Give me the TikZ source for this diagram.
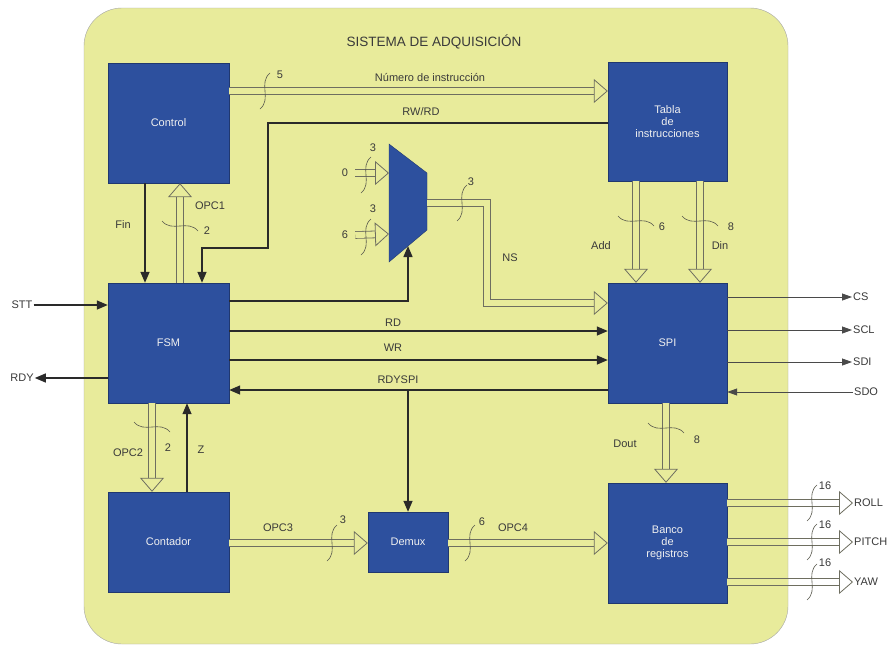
\documentclass[tikz,border=0pt]{standalone}
\usepackage{fontspec}
\setmainfont{Liberation Sans}
\usetikzlibrary{arrows.meta}

\definecolor{bgyellow}{HTML}{E8EB9B}
\definecolor{blkblue}{HTML}{2D509E}
\definecolor{txtgray}{HTML}{3A3A3A}
\definecolor{busgray}{HTML}{6E6E60}
\definecolor{sigdark}{HTML}{2A2A2A}

\tikzset{
  block/.style={draw=blkblue!70!black, line width=0.4pt, fill=blkblue, text=white!88!gray,
    align=center, inner sep=0pt, font=\fontsize{11}{12}\selectfont},
  lbl/.style={text=txtgray, inner sep=1pt, font=\fontsize{11}{13}\selectfont},
  sig/.style={draw=sigdark, line width=1.4pt, -{Triangle[length=11pt,width=9pt]}},
  ext/.style={draw=sigdark!85, line width=0.8pt, -{Triangle[length=10pt,width=7pt]}},
  bus/.style={draw=busgray, line width=0.8pt, double=#1, double distance=6pt,
    -{Triangle[length=14pt,width=24pt,fill=#1]}},
  bus/.default=bgyellow,
  brk/.pic={\draw[busgray!80!black, line width=0.6pt] (5,-18) .. controls (-7,-8) and (7,8) .. (-5,18);}
}

\begin{document}
\begin{tikzpicture}[x=1pt, y=-1pt]
  \useasboundingbox (0,0) rectangle (888,646);
  \fill[white] (0,0) rectangle (888,646);

  % System frame
  \draw[fill=bgyellow, draw=gray!70, rounded corners=38pt] (84,8) rectangle (788,644);
  \node[lbl, font=\fontsize{13.5}{15}\selectfont] (title) at (434,42) {SISTEMA DE ADQUISICIÓN};

  % Blocks
  \node[block, minimum width=121pt, minimum height=120pt] (ctrl) at (168.5,123) {Control};
  \node[block, minimum width=119pt, minimum height=119pt] (tabla) at (667.5,121.5) {Tabla\\de\\instrucciones};
  \node[block, minimum width=121pt, minimum height=120pt] (fsm) at (168.5,343) {FSM};
  \node[block, minimum width=119pt, minimum height=120pt] (spi) at (667.5,343) {SPI};
  \node[block, minimum width=121pt, minimum height=100pt] (cont) at (168.5,542) {Contador};
  \node[block, minimum width=119pt, minimum height=120pt] (banco) at (667.5,543) {Banco\\de\\registros};
  \node[block, minimum width=80pt, minimum height=60pt] (demux) at (408,542) {Demux};

  % Multiplexer
  \draw[fill=blkblue, draw=blkblue!70!black, line width=0.4pt] (389,144) -- (427,173) -- (427,230) -- (389,262) -- cycle;
  \coordinate (muxA) at (389,173);
  \coordinate (muxB) at (389,234);
  \coordinate (muxS) at (408,246);
  \coordinate (muxO) at (427,203);
  \coordinate (jn) at (408,390);

  % Control and instruction table
  \draw[bus] (ctrl.east |- 0,91) -- (tabla.west |- 0,91);
  \pic at (265,91) {brk};
  \node[lbl] (w5) at (280,75) {5};
  \node[lbl] (nInst) at (430,77) {Número de instrucción};
  \draw[sig] (tabla.west |- 0,123) -- (268,123) -- (268,248) -- (202,248) -- (fsm.north -| 202,0);
  \node[lbl] (rwrd) at (421,112) {RW/RD};
  \draw[sig] (ctrl.south -| 145,0) -- (fsm.north -| 145,0);
  \node[lbl] (fin) at (123,225) {Fin};
  \draw[bus] (fsm.north -| 180,0) -- (ctrl.south -| 180,0);
  \pic[rotate=90] at (180,226) {brk};
  \node[lbl] (opc1) at (210,206) {OPC1};
  \node[lbl] (w2a) at (207,231) {2};

  % Mux inputs and output
  \node[lbl] (in0) at (345,173) {0};
  \draw[bus] ([xshift=6pt]in0.east) -- (muxA);
  \pic at (366,175) {brk};
  \node[lbl] (w3a) at (373,148) {3};
  \node[lbl] (in6) at (345,235) {6};
  \draw[bus] ([xshift=6pt]in6.east) -- (muxB);
  \pic at (366,237) {brk};
  \node[lbl] (w3b) at (373,209) {3};
  \draw[sig] (fsm.east |- 0,301) -| (muxS);
  \draw[bus] (muxO) -| (487,303) -- (spi.west |- 0,303);
  \pic at (462,203) {brk};
  \node[lbl] (w3c) at (471,182) {3};
  \node[lbl] (ns) at (510,258) {NS};

  % FSM and SPI
  \draw[sig] (fsm.east |- 0,331) -- (spi.west |- 0,331);
  \node[lbl] (rd) at (393,323) {RD};
  \draw[sig] (fsm.east |- 0,360) -- (spi.west |- 0,360);
  \node[lbl] (wr) at (393,348) {WR};
  \draw[sig] (spi.west |- 0,390) -- (fsm.east |- 0,390);
  \node[lbl] (rdyspi) at (398,380) {RDYSPI};
  \draw[sig] (jn) -- (demux.north);

  \draw[bus] (tabla.south -| 636,0) -- (spi.north -| 636,0);
  \pic[rotate=90] at (636,221) {brk};
  \node[lbl] (add) at (601,246) {Add};
  \node[lbl] (w6a) at (662,227) {6};
  \draw[bus] (tabla.south -| 700,0) -- (spi.north -| 700,0);
  \pic[rotate=90] at (700,221) {brk};
  \node[lbl] (din) at (720,246) {Din};
  \node[lbl] (w8a) at (731,227) {8};

  % External signals
  \node[lbl] (stt) at (22,305) {STT};
  \draw[sig] (stt.east) -- (fsm.west |- stt.east);
  \node[lbl] (rdy) at (22,378) {RDY};
  \draw[sig] (fsm.west |- rdy.east) -- (rdy.east);
  \node[lbl, anchor=west] (cs) at (852,297) {CS};
  \draw[ext] (spi.east |- cs.west) -- (cs.west);
  \node[lbl, anchor=west] (scl) at (852,330) {SCL};
  \draw[ext] (spi.east |- scl.west) -- (scl.west);
  \node[lbl, anchor=west] (sdi) at (852,362) {SDI};
  \draw[ext] (spi.east |- sdi.west) -- (sdi.west);
  \node[lbl, anchor=west] (sdo) at (853,392) {SDO};
  \draw[ext] (sdo.west) -- (spi.east |- sdo.west);

  % Counter and register bank
  \draw[bus] (fsm.south -| 152,0) -- (cont.north -| 152,0);
  \pic[rotate=90] at (152,427) {brk};
  \node[lbl] (opc2) at (128,453) {OPC2};
  \node[lbl] (w2b) at (168,448) {2};
  \draw[sig] (cont.north -| 187,0) -- (fsm.south -| 187,0);
  \node[lbl] (z) at (201,450) {Z};

  \draw[bus] (cont.east |- 0,543) -- (demux.west |- 0,543);
  \pic at (332,543) {brk};
  \node[lbl] (opc3) at (278,528) {OPC3};
  \node[lbl] (w3d) at (343,520) {3};
  \draw[bus] (demux.east |- 0,543) -- (banco.west |- 0,543);
  \pic at (470,543) {brk};
  \node[lbl] (w6b) at (482,522) {6};
  \node[lbl] (opc4) at (513,528) {OPC4};

  \draw[bus] (spi.south -| 666,0) -- (banco.north -| 666,0);
  \pic[rotate=90] at (666,428) {brk};
  \node[lbl] (dout) at (625,444) {Dout};
  \node[lbl] (w8b) at (697,440) {8};

  % Outputs of the register bank
  \node[lbl, anchor=west] (roll) at (853,503) {ROLL};
  \node[lbl, anchor=west] (pitch) at (853,542) {PITCH};
  \node[lbl, anchor=west] (yaw) at (853,582) {YAW};
  \foreach \o in {roll,pitch,yaw}{
    \draw[bus=white] (banco.east |- \o.west) -- (\o.west);
    \begin{scope}
      \clip (700,450) rectangle (788,620);
      \draw[bus] (banco.east |- \o.west) -- (\o.west);
    \end{scope}
  }
  \pic at (812,503) {brk};
  \node[lbl] (w16a) at (825,486) {16};
  \pic at (812,542) {brk};
  \node[lbl] (w16b) at (825,525) {16};
  \pic at (812,582) {brk};
  \node[lbl] (w16c) at (825,563) {16};
\end{tikzpicture}
\end{document}
